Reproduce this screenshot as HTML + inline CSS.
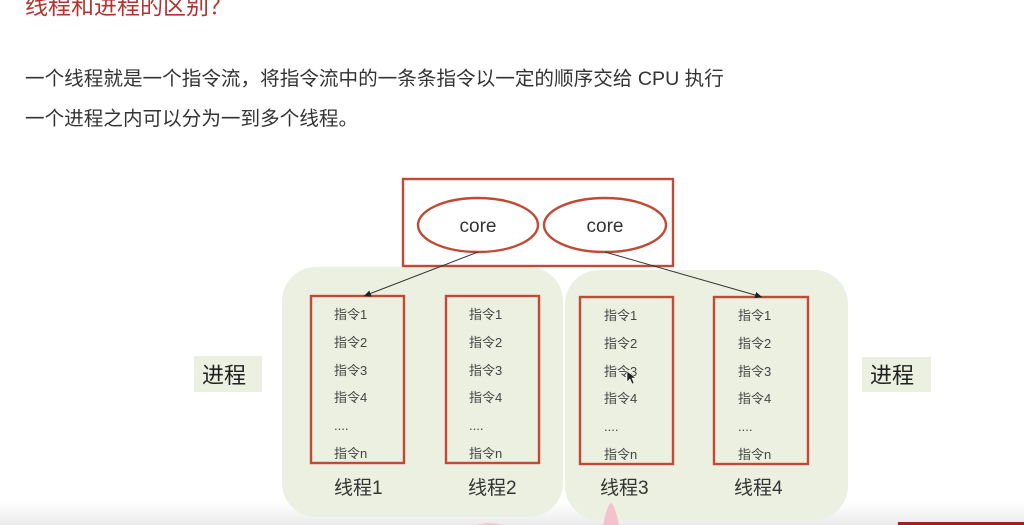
<!DOCTYPE html>
<html><head><meta charset="utf-8"><style>
html,body{margin:0;padding:0;background:#fff;width:1024px;height:525px;overflow:hidden}
svg{display:block}
.cj{font-family:"Liberation Sans","Noto Sans CJK SC",sans-serif}
</style></head><body>
<svg width="1024" height="525" viewBox="0 0 1024 525" xmlns="http://www.w3.org/2000/svg">
<defs>
<linearGradient id="bg" x1="0" y1="0" x2="0" y2="1">
<stop offset="0" stop-color="#ffffff"/>
<stop offset="1" stop-color="#ebebeb"/>
</linearGradient>
<marker id="ah" markerWidth="8" markerHeight="8" refX="7" refY="4" orient="auto" markerUnits="userSpaceOnUse">
<path d="M0,0.8 L7,4 L0,7.2 Z" fill="#222"/>
</marker>
</defs>
<rect x="0" y="502" width="1024" height="23" fill="url(#bg)"/>
<!-- title -->
<text x="25" y="14" class="cj" font-size="23" fill="#b3332f">线程和进程的区别？</text>
<text x="25" y="85" class="cj" font-size="19.6" fill="#333">一个线程就是一个指令流，将指令流中的一条条指令以一定的顺序交给 CPU 执行</text>
<text x="25" y="125" class="cj" font-size="19.6" fill="#333">一个进程之内可以分为一到多个线程。</text>

<!-- process regions -->
<rect x="282" y="267" width="281" height="250" rx="34" fill="#ecf0e1"/>
<rect x="565" y="270" width="283" height="250" rx="34" fill="#ecf0e1"/>

<!-- pink shapes -->
<path d="M603,525 Q607,505 611,503 Q615,505 619,525 Z" fill="#f4c2cc"/>
<path d="M476,525 Q490,521 504,525 Z" fill="#f6c9d2"/>
<rect x="898" y="522" width="126" height="3" fill="#a51c22"/>

<!-- cpu box -->
<rect x="403" y="179" width="270" height="87" fill="#fff" stroke="#c04a35" stroke-width="2.4"/>
<ellipse cx="478" cy="225" rx="60" ry="27" fill="#fff" stroke="#c04a35" stroke-width="2.4"/>
<ellipse cx="605" cy="225" rx="61" ry="27" fill="#fff" stroke="#c04a35" stroke-width="2.4"/>
<text x="478" y="232" text-anchor="middle" font-family="Liberation Sans, sans-serif" font-size="19" fill="#333">core</text>
<text x="605" y="232" text-anchor="middle" font-family="Liberation Sans, sans-serif" font-size="19" fill="#333">core</text>

<!-- thread boxes -->
<rect x="311" y="296" width="93" height="167" fill="none" stroke="#c04a35" stroke-width="2.4"/>
<rect x="446" y="296" width="93" height="167" fill="none" stroke="#c04a35" stroke-width="2.4"/>
<rect x="580" y="297" width="93" height="167" fill="none" stroke="#c04a35" stroke-width="2.4"/>
<rect x="714" y="297" width="94" height="167" fill="none" stroke="#c04a35" stroke-width="2.4"/>

<!-- arrows -->
<line x1="478" y1="252" x2="364" y2="296" stroke="#333" stroke-width="1" marker-end="url(#ah)"/>
<line x1="605" y1="252" x2="762" y2="297" stroke="#333" stroke-width="1" marker-end="url(#ah)"/>

<!-- instructions -->
<g class="cj" font-size="13" fill="#444">
<text x="334" y="319">指令1</text><text x="334" y="347">指令2</text><text x="334" y="375">指令3</text><text x="334" y="402">指令4</text><text x="334" y="430">....</text><text x="334" y="458">指令n</text>
<text x="469" y="319">指令1</text><text x="469" y="347">指令2</text><text x="469" y="375">指令3</text><text x="469" y="402">指令4</text><text x="469" y="430">....</text><text x="469" y="458">指令n</text>
<text x="604" y="320">指令1</text><text x="604" y="348">指令2</text><text x="604" y="376">指令3</text><text x="604" y="403">指令4</text><text x="604" y="431">....</text><text x="604" y="459">指令n</text>
<text x="738" y="320">指令1</text><text x="738" y="348">指令2</text><text x="738" y="376">指令3</text><text x="738" y="403">指令4</text><text x="738" y="431">....</text><text x="738" y="459">指令n</text>
</g>
<!-- cursor -->
<path d="M627,371 L627,382 L630,379 L632,384 L634,383 L632,378 L636,378 Z" fill="#222" stroke="#fff" stroke-width="0.6"/>

<!-- thread labels -->
<g class="cj" font-size="19" fill="#333">
<text x="334" y="494">线程1</text>
<text x="468" y="494">线程2</text>
<text x="600" y="494">线程3</text>
<text x="734" y="494">线程4</text>
</g>

<!-- process labels -->
<rect x="194" y="356" width="68" height="36" fill="#ecf0e1"/>
<rect x="862" y="357" width="69" height="35" fill="#ecf0e1"/>
<text x="202" y="383" class="cj" font-size="22" fill="#222">进程</text>
<text x="870" y="383" class="cj" font-size="22" fill="#222">进程</text>
</svg>
</body></html>
